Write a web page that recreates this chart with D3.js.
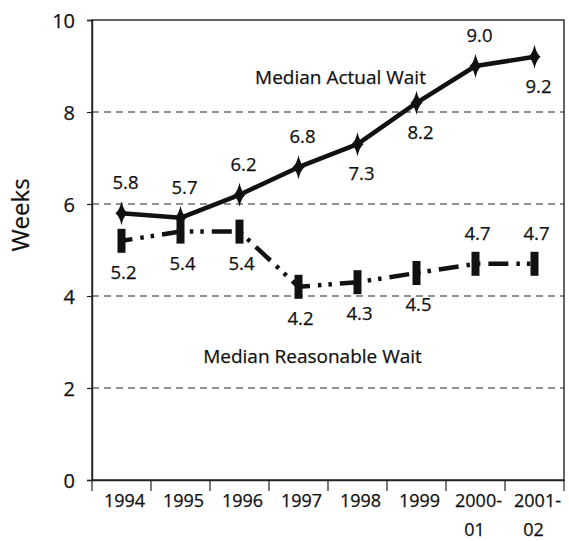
<!DOCTYPE html>
<html>
<head>
<meta charset="utf-8">
<script src="https://cdn.jsdelivr.net/npm/d3@7"></script>
<style>
  html, body { margin: 0; padding: 0; background: #fff; }
  svg { display: block; }
  text { font-family: "Open Sans", "DejaVu Sans", sans-serif; fill: #111; stroke: #111; stroke-width: 0.25px; }
</style>
</head>
<body>
<svg id="chart" width="569" height="541"></svg>
<script>
// ---- data ----
const categories = ["1994", "1995", "1996", "1997", "1998", "1999", "2000-01", "2001-02"];
const tickLabels = [["1994"], ["1995"], ["1996"], ["1997"], ["1998"], ["1999"], ["2000-", "01"], ["2001-", "02"]];
const actualWait = [5.8, 5.7, 6.2, 6.8, 7.3, 8.2, 9.0, 9.2];
const reasonableWait = [5.2, 5.4, 5.4, 4.2, 4.3, 4.5, 4.7, 4.7];
const actualLabelSide = ["above", "above", "above", "above", "below", "below", "above", "below"];
const reasonableLabelSide = ["below", "below", "below", "below", "below", "below", "above", "above"];
const yTicks = [0, 2, 4, 6, 8, 10];
const seriesNames = ["Median Actual Wait", "Median Reasonable Wait"];
const yTitle = "Weeks";

// ---- layout ----
const svg = d3.select("#chart");
const mLeft = 92, mRight = 564, mTop = 20, mBottom = 480;

const x = d3.scaleBand().domain(categories).range([mLeft, mRight]);
const y = d3.scaleLinear().domain([0, 10]).range([mBottom, mTop]);
const cx = c => x(c) + x.bandwidth() / 2;

// grid lines
svg.append("g").selectAll("line")
  .data(yTicks.filter(v => v > 0 && v < 10))
  .join("line")
  .attr("x1", mLeft).attr("x2", mRight)
  .attr("y1", d => y(d)).attr("y2", d => y(d))
  .attr("stroke", "#222").attr("stroke-width", 1)
  .attr("stroke-dasharray", "7,5");

// frame
svg.append("rect")
  .attr("x", mLeft).attr("y", mTop)
  .attr("width", mRight - mLeft).attr("height", mBottom - mTop)
  .attr("fill", "none").attr("stroke", "#222").attr("stroke-width", 1.4);

// y axis
const yAxis = svg.append("g")
  .attr("transform", `translate(${mLeft},0)`)
  .call(d3.axisLeft(y).tickValues(yTicks).tickSize(5).tickPadding(12).tickFormat(d3.format("d")));
yAxis.select(".domain").attr("stroke", "#222").attr("stroke-width", 1.4);
yAxis.selectAll(".tick line").attr("stroke", "#222").attr("stroke-width", 1.2);
yAxis.selectAll("text").attr("font-size", 20).attr("fill", "#111")
  .style("font-family", "'Open Sans', sans-serif").attr("dy", "0.36em");

// x axis: labels centered in bands, ticks at band boundaries
const xAxis = svg.append("g")
  .attr("transform", `translate(0,${mBottom})`)
  .call(d3.axisBottom(x).tickSize(0).tickFormat(""));
xAxis.select(".domain").attr("stroke", "#222").attr("stroke-width", 1.4);

const boundaries = categories.map(c => x(c)).concat([x(categories[categories.length - 1]) + x.bandwidth()]);
svg.append("g").selectAll("line")
  .data(boundaries)
  .join("line")
  .attr("x1", d => d).attr("x2", d => d)
  .attr("y1", mBottom).attr("y2", mBottom + 11)
  .attr("stroke", "#222").attr("stroke-width", 1.2);

const xl = svg.append("g").selectAll("text")
  .data(categories)
  .join("text")
  .attr("x", d => cx(d) + 3)
  .attr("y", mBottom + 27)
  .attr("text-anchor", "middle")
  .attr("font-size", 18);
xl.each(function (d, i) {
  const t = d3.select(this);
  tickLabels[i].forEach((line, j) => {
    t.append("tspan").attr("x", cx(d) + 3 + (j > 0 ? -4 : 0)).attr("dy", j === 0 ? 0 : 29).text(line);
  });
});

// y title
svg.append("text")
  .attr("transform", "translate(29,215) rotate(-90)")
  .attr("text-anchor", "middle")
  .attr("font-size", 24)
  .text(yTitle);

// lines
const lineGen = d3.line().x((d, i) => cx(categories[i])).y(d => y(d));

svg.append("path")
  .datum(reasonableWait)
  .attr("d", lineGen)
  .attr("fill", "none").attr("stroke", "#111").attr("stroke-width", 4.5)
  .attr("stroke-dasharray", "20,8,3.5,7,3.5,8")
  .attr("stroke-dashoffset", 9);

svg.append("path")
  .datum(actualWait)
  .attr("d", lineGen)
  .attr("fill", "none").attr("stroke", "#111").attr("stroke-width", 4.5)
  .attr("stroke-linejoin", "round");

// markers
svg.append("g").selectAll("path")
  .data(actualWait)
  .join("path")
  .attr("transform", (d, i) => `translate(${cx(categories[i])},${y(d)})`)
  .attr("d", "M0,-12 Q2,-3 6,0 Q2,3 0,12 Q-2,3 -6,0 Q-2,-3 0,-12Z")
  .attr("fill", "#111");

svg.append("g").selectAll("rect")
  .data(reasonableWait)
  .join("rect")
  .attr("x", (d, i) => cx(categories[i]) - 4)
  .attr("y", d => y(d) - 12)
  .attr("width", 8).attr("height", 24)
  .attr("fill", "#111");

// value labels
svg.append("g").selectAll("text")
  .data(actualWait)
  .join("text")
  .attr("x", (d, i) => cx(categories[i]) + 4)
  .attr("y", (d, i) => y(d) + (actualLabelSide[i] === "above" ? -24 : 36))
  .attr("text-anchor", "middle")
  .attr("font-size", 18.5)
  .text(d => d3.format(".1f")(d));

svg.append("g").selectAll("text")
  .data(reasonableWait)
  .join("text")
  .attr("x", (d, i) => cx(categories[i]) + 2)
  .attr("y", (d, i) => y(d) + (reasonableLabelSide[i] === "above" ? -24 : 38))
  .attr("text-anchor", "middle")
  .attr("font-size", 18.5)
  .text(d => d3.format(".1f")(d));

// series labels
svg.append("text")
  .attr("x", x("1997") + x.bandwidth() / 2 + 42)
  .attr("y", y(8.6))
  .attr("text-anchor", "middle")
  .attr("font-size", 19)
  .text(seriesNames[0]);

svg.append("text")
  .attr("x", x("1997") + x.bandwidth() / 2 + 14)
  .attr("y", y(2.55))
  .attr("text-anchor", "middle")
  .attr("font-size", 19)
  .text(seriesNames[1]);
</script>
</body>
</html>
